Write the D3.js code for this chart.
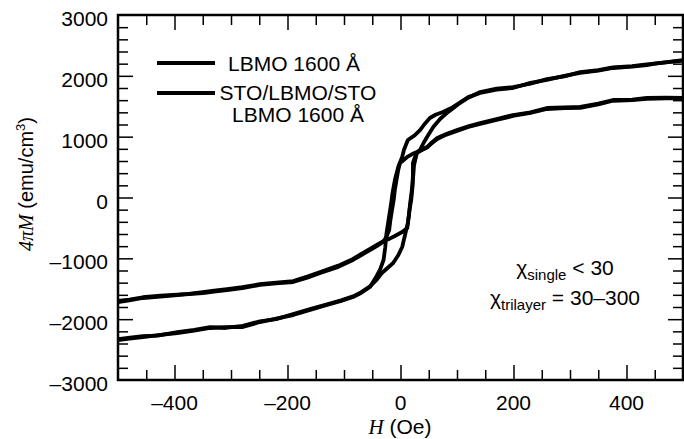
<!DOCTYPE html>
<html>
<head>
<meta charset="utf-8">
<script src="https://cdn.jsdelivr.net/npm/d3@7"></script>
<style>
  body { margin: 0; background: #fff; }
  svg { display: block; font-family: "Liberation Sans", Arial, sans-serif; }
</style>
</head>
<body>
<div class="plot"></div>
<script>
// field H (Oe) and 4piM (emu/cm3), one array per branch
const trilayerDown = [[500,2260],[475,2230],[450,2200],[436,2178],[410,2150],[376,2129],[350,2085],[318,2047],[290,2000],[259,1932],[230,1885],[199,1800],[170,1775],[141,1718],[120,1650],[105,1560],[90,1470],[75,1406],[62,1360],[52,1307],[42,1200],[35,1110],[25,1020],[13,945],[6,780],[3,666],[-4,501],[-10,288],[-14,80],[-17,-123],[-22,-419],[-25,-600],[-27,-820],[-30,-1027],[-36,-1180],[-44,-1320],[-54,-1471],[-70,-1570],[-84,-1636],[-105,-1700],[-130,-1767],[-160,-1850],[-190,-1932],[-220,-1990],[-249,-2047],[-279,-2129],[-310,-2130],[-337,-2145],[-365,-2190],[-395,-2228],[-425,-2260],[-456,-2293],[-480,-2320],[-500,-2343]];
const trilayerUp = [[-500,-2330],[-475,-2300],[-456,-2280],[-430,-2270],[-395,-2215],[-365,-2175],[-337,-2130],[-310,-2145],[-279,-2110],[-249,-2035],[-220,-2000],[-190,-1915],[-160,-1835],[-130,-1755],[-105,-1690],[-84,-1625],[-70,-1560],[-54,-1460],[-42,-1350],[-33,-1241],[-22,-1150],[-13,-1077],[-4,-950],[3,-814],[8,-617],[13,-419],[16,-200],[19,-41],[21,150],[22,288],[24,534],[29,732],[35,790],[41,900],[47,994],[58,1159],[70,1290],[82,1389],[95,1480],[105,1553],[120,1640],[141,1734],[170,1790],[199,1815],[230,1870],[259,1945],[290,1990],[318,2060],[350,2095],[376,2140],[410,2160],[436,2190],[470,2220],[500,2250]];
const singleDown = [[500,1636],[470,1640],[436,1636],[410,1610],[376,1603],[350,1545],[318,1488],[290,1480],[259,1471],[230,1400],[199,1356],[170,1290],[141,1225],[120,1170],[100,1110],[80,1040],[65,978],[55,900],[47,830],[38,790],[29,748],[20,710],[12,666],[5,610],[-1,567],[-4,452],[-7,290],[-10,123],[-12,-40],[-15,-205],[-18,-380],[-20,-534],[-25,-650],[-31,-732],[-42,-800],[-54,-863],[-70,-950],[-84,-1027],[-110,-1140],[-142,-1241],[-165,-1320],[-190,-1389],[-220,-1410],[-249,-1438],[-280,-1490],[-307,-1521],[-330,-1545],[-350,-1570],[-375,-1590],[-395,-1603],[-425,-1630],[-456,-1652],[-480,-1690],[-500,-1718]];
const singleUp = [[-500,-1700],[-480,-1680],[-456,-1640],[-425,-1615],[-395,-1595],[-375,-1585],[-350,-1555],[-330,-1530],[-307,-1505],[-280,-1475],[-249,-1425],[-220,-1400],[-190,-1375],[-165,-1300],[-142,-1225],[-110,-1120],[-84,-1010],[-70,-930],[-54,-845],[-42,-780],[-31,-720],[-20,-680],[-10,-633],[3,-567],[12,-501],[15,-288],[17,-100],[19,41],[21,200],[22,370],[22,567],[25,650],[29,732],[38,780],[47,820],[55,890],[65,960],[80,1030],[100,1095],[120,1160],[141,1210],[170,1275],[199,1340],[230,1390],[259,1455],[290,1470],[318,1475],[350,1530],[376,1590],[410,1600],[436,1620],[470,1630],[500,1630]];

const xTickValues = [-400, -200, 0, 200, 400];
const xTickLabels = ["\u2013400", "\u2013200", "0", "200", "400"];
const yTickValues = [-3000, -2000, -1000, 0, 1000, 2000, 3000];
const yTickLabels = ["\u20133000", "\u20132000", "\u20131000", "0", "1000", "2000", "3000"];

const margin = { top: 15, right: 1, bottom: 59, left: 118 },
    W = 684, H = 439,
    width = W - margin.left - margin.right,
    height = H - margin.top - margin.bottom;

const svg = d3.select(".plot")
    .append("svg")
    .attr("width", W)
    .attr("height", H);

svg.append("rect").attr("width", W).attr("height", H).attr("fill", "#fff");

const g = svg.append("g")
    .attr("transform", `translate(${margin.left}, ${margin.top})`);

const x = d3.scaleLinear().domain([-500, 500]).range([0, width]);
const y = d3.scaleLinear().domain([-3000, 3000]).range([height, 0]);

const xMinor = d3.range(-450, 451, 50).filter(v => !xTickValues.includes(v));
const yMinor = d3.range(-2800, 2801, 200).filter(v => !yTickValues.includes(v));

// ticks on all four sides, pointing inward
function ticks(axisFn, scale, minor, major, transform) {
    const a = g.append("g").attr("transform", transform);
    a.append("g").call(axisFn(scale).tickValues(minor).tickSize(-10).tickSizeOuter(0).tickFormat(""));
    a.append("g").call(axisFn(scale).tickValues(major).tickSize(-15).tickSizeOuter(0).tickFormat(""));
    a.selectAll(".domain").remove();
    a.selectAll(".tick line").attr("stroke", "#000").attr("stroke-width", 1.5);
    return a;
}
ticks(d3.axisBottom, x, xMinor, xTickValues, `translate(0, ${height})`);
ticks(d3.axisTop, x, xMinor, xTickValues, "translate(0, 0)");
ticks(d3.axisLeft, y, yMinor, yTickValues.slice(1, -1), "translate(0, 0)");
ticks(d3.axisRight, y, yMinor, yTickValues.slice(1, -1), `translate(${width}, 0)`);

// tick labels
g.append("g").selectAll("text")
    .data(xTickValues)
    .join("text")
    .attr("x", d => x(d))
    .attr("y", height + 30)
    .attr("text-anchor", "middle")
    .attr("font-size", 21)
    .text((d, i) => xTickLabels[i]);

g.append("g").selectAll("text")
    .data(yTickValues)
    .join("text")
    .attr("x", -10)
    .attr("y", d => y(d) + 11)
    .attr("text-anchor", "end")
    .attr("font-size", 21)
    .text((d, i) => yTickLabels[i]);

// loops
g.append("clipPath").attr("id", "clip")
    .append("rect").attr("width", width).attr("height", height);

const line = d3.line()
    .x(d => x(d[0]))
    .y(d => y(d[1]));

g.append("g").attr("clip-path", "url(#clip)")
    .selectAll("path")
    .data([trilayerDown, trilayerUp, singleDown, singleUp])
    .join("path")
    .attr("d", line)
    .attr("fill", "none")
    .attr("stroke", "#000")
    .attr("stroke-width", 3.8)
    .attr("stroke-linejoin", "round")
    .attr("stroke-linecap", "round");

// frame
g.append("rect")
    .attr("width", width).attr("height", height)
    .attr("fill", "none").attr("stroke", "#000").attr("stroke-width", 2.5);

// legend
const legend = g.append("g").attr("font-size", 21);
legend.append("line").attr("x1", 39).attr("x2", 97).attr("y1", 48).attr("y2", 48)
    .attr("stroke", "#000").attr("stroke-width", 3.8);
legend.append("text").attr("x", 110).attr("y", 56).text("LBMO 1600 \u00C5");
legend.append("line").attr("x1", 39).attr("x2", 97).attr("y1", 78).attr("y2", 78)
    .attr("stroke", "#000").attr("stroke-width", 3.8);
legend.append("text").attr("x", 180).attr("y", 85).attr("text-anchor", "middle").text("STO/LBMO/STO");
legend.append("text").attr("x", 180).attr("y", 107).attr("text-anchor", "middle").text("LBMO 1600 \u00C5");

// susceptibility note
const note = g.append("g").attr("font-size", 21).attr("text-anchor", "middle");
const n1 = note.append("text").attr("x", 447).attr("y", 260);
n1.append("tspan").text("\u03C7");
n1.append("tspan").attr("font-size", 15).attr("dy", 5).text("single");
n1.append("tspan").attr("dy", -5).text(" < 30");
const n2 = note.append("text").attr("x", 447).attr("y", 290);
n2.append("tspan").text("\u03C7");
n2.append("tspan").attr("font-size", 15).attr("dy", 5).text("trilayer");
n2.append("tspan").attr("dy", -5).text(" = 30\u2013300");

// axis titles
const xt = svg.append("text").attr("x", 400).attr("y", 434).attr("text-anchor", "middle").attr("font-size", 21);
xt.append("tspan").attr("font-family", "Liberation Serif, serif").attr("font-style", "italic").text("H");
xt.append("tspan").text(" (Oe)");

const yt = svg.append("text")
    .attr("transform", "translate(33, 184) rotate(-90)")
    .attr("text-anchor", "middle").attr("font-size", 20);
yt.append("tspan").attr("font-family", "Liberation Serif, serif").attr("font-style", "italic").text("4\u03C0M");
yt.append("tspan").text("  (emu/cm");
yt.append("tspan").attr("font-size", 13).attr("dy", -8).text("3");
yt.append("tspan").attr("dy", 8).text(")");
</script>
</body>
</html>
